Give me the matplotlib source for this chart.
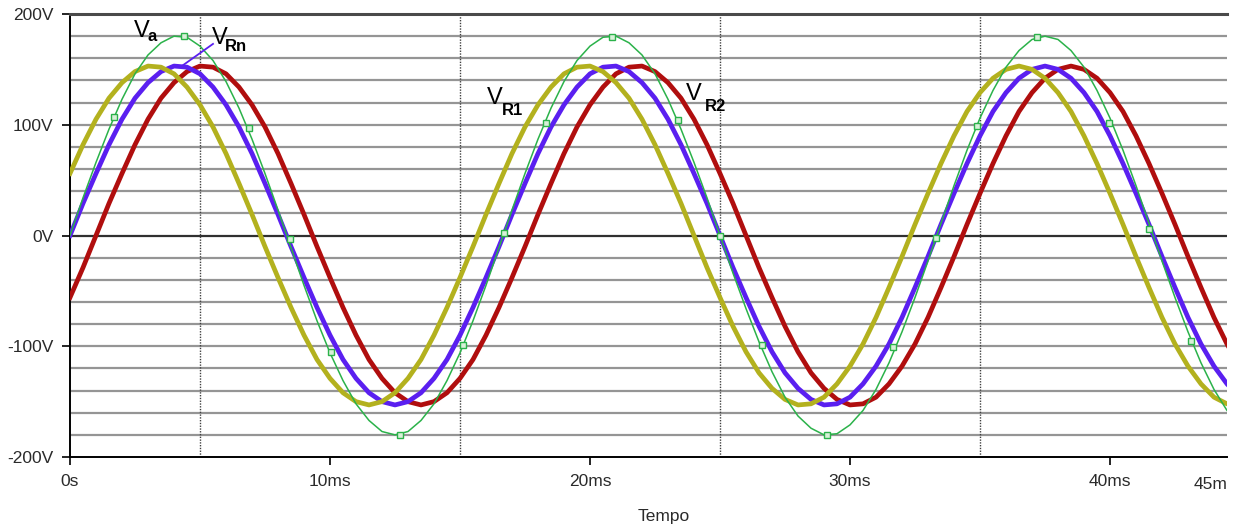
import matplotlib
matplotlib.use("Agg")
import matplotlib.pyplot as plt

plt.rcParams['font.family'] = ['Liberation Sans', 'DejaVu Sans']

# time axis (ms), sampled every 0.5 ms
t_ms = [
    0.0, 0.5, 1.0, 1.5, 2.0, 2.5, 3.0, 3.5, 4.0, 4.5,
    5.0, 5.5, 6.0, 6.5, 7.0, 7.5, 8.0, 8.5, 9.0, 9.5,
    10.0, 10.5, 11.0, 11.5, 12.0, 12.5, 13.0, 13.5, 14.0, 14.5,
    15.0, 15.5, 16.0, 16.5, 17.0, 17.5, 18.0, 18.5, 19.0, 19.5,
    20.0, 20.5, 21.0, 21.5, 22.0, 22.5, 23.0, 23.5, 24.0, 24.5,
    25.0, 25.5, 26.0, 26.5, 27.0, 27.5, 28.0, 28.5, 29.0, 29.5,
    30.0, 30.5, 31.0, 31.5, 32.0, 32.5, 33.0, 33.5, 34.0, 34.5,
    35.0, 35.5, 36.0, 36.5, 37.0, 37.5, 38.0, 38.5, 39.0, 39.5,
    40.0, 40.5, 41.0, 41.5, 42.0, 42.5, 43.0, 43.5, 44.0, 44.5,
    45.0,
]

# source voltage Va (V)
va = [
    0, 34, 66, 96, 123, 146, 163, 174, 180, 179,
    171, 158, 139, 115, 87, 56, 23, -11, -45, -77,
    -106, -131, -152, -167, -177, -180, -177, -167, -152, -131,
    -106, -77, -45, -11, 23, 56, 87, 115, 139, 158,
    171, 179, 180, 174, 163, 146, 123, 96, 66, 34,
    0, -34, -66, -96, -123, -146, -163, -174, -180, -179,
    -171, -158, -139, -115, -87, -56, -23, 11, 45, 77,
    106, 131, 152, 167, 177, 180, 177, 167, 152, 131,
    106, 77, 45, 11, -23, -56, -87, -115, -139, -158,
    -171,
]

# resistor voltage VRn (V)
v_rn = [
    0, 29, 56, 82, 105, 124, 138, 148, 153, 152,
    146, 134, 118, 98, 74, 47, 19, -10, -38, -65,
    -90, -112, -129, -142, -150, -153, -150, -142, -129, -112,
    -90, -65, -38, -10, 19, 47, 74, 98, 118, 134,
    146, 152, 153, 148, 138, 124, 105, 82, 56, 29,
    0, -29, -56, -82, -105, -124, -138, -148, -153, -152,
    -146, -134, -118, -98, -74, -47, -19, 10, 38, 65,
    90, 112, 129, 142, 150, 153, 150, 142, 129, 112,
    90, 65, 38, 10, -19, -47, -74, -98, -118, -134,
    -146,
]

# resistor voltage VR1 (V), leading
v_r1 = [
    56, 82, 105, 124, 138, 148, 153, 152, 146, 134,
    118, 98, 74, 47, 19, -10, -38, -65, -90, -112,
    -129, -142, -150, -153, -150, -142, -129, -112, -90, -65,
    -38, -10, 19, 47, 74, 98, 118, 134, 146, 152,
    153, 148, 138, 124, 105, 82, 56, 29, 0, -29,
    -56, -82, -105, -124, -138, -148, -153, -152, -146, -134,
    -118, -98, -74, -47, -19, 10, 38, 65, 90, 112,
    129, 142, 150, 153, 150, 142, 129, 112, 90, 65,
    38, 10, -19, -47, -74, -98, -118, -134, -146, -152,
    -153,
]

# resistor voltage VR2 (V), lagging
v_r2 = [
    -56, -29, 0, 29, 56, 82, 105, 124, 138, 148,
    153, 152, 146, 134, 118, 98, 74, 47, 19, -10,
    -38, -65, -90, -112, -129, -142, -150, -153, -150, -142,
    -129, -112, -90, -65, -38, -10, 19, 47, 74, 98,
    118, 134, 146, 152, 153, 148, 138, 124, 105, 82,
    56, 29, 0, -29, -56, -82, -105, -124, -138, -148,
    -153, -152, -146, -134, -118, -98, -74, -47, -19, 10,
    38, 65, 90, 112, 129, 142, 150, 153, 150, 142,
    129, 112, 90, 65, 38, 10, -19, -47, -74, -98,
    -118,
]

# square markers on the Va trace
va_mark_t = [1.7, 4.4, 6.9, 8.45, 10.05, 12.7, 15.1, 16.7, 18.3, 20.85,
             23.4, 25.0, 26.6, 29.1, 31.65, 33.3, 34.9, 37.2, 39.95, 41.5, 43.1]
va_mark_v = [107, 180, 97, -3, -105, -180, -99, 2, 102, 179,
             104, 0, -99, -180, -101, -2, 99, 179, 102, 6, -95]

x_ticks = [0, 10, 20, 30, 40]
x_tick_labels = ["0s", "10ms", "20ms", "30ms", "40ms"]
y_ticks = [-200, -100, 0, 100, 200]
y_tick_labels = ["-200V", "-100V", "0V", "100V", "200V"]
y_grid = [-180, -160, -140, -120, -100, -80, -60, -40, -20,
          20, 40, 60, 80, 100, 120, 140, 160, 180]
x_dotted = [5, 15, 25, 35]

c_green = "#2bb24a"
c_blue = "#5a1ff0"
c_olive = "#b3b11e"
c_red = "#b00e0e"

fig = plt.figure(figsize=(12.42, 5.29), dpi=100)
ax = fig.add_axes([70 / 1242, 1 - 457 / 529, 1157 / 1242, 443 / 529])
ax.set_xlim(0, 44.5)
ax.set_ylim(-200, 200)

# grid
for g in y_grid:
    ax.axhline(g, color="#959595", lw=1.6, zorder=1)
ax.axhline(0, color="#303030", lw=1.6, zorder=1)
for xd in x_dotted:
    ax.axvline(xd, color="#404040", lw=1.0, ls=(0, (1, 1)), zorder=1)

# traces
ax.plot(t_ms, v_r2, color=c_red, lw=3.4, zorder=3, solid_joinstyle="round")
ax.plot(t_ms, v_rn, color=c_blue, lw=3.4, zorder=4, solid_joinstyle="round")
ax.plot(t_ms, v_r1, color=c_olive, lw=3.4, zorder=5, solid_joinstyle="round")
ax.plot(t_ms, va, color=c_green, lw=1.1, zorder=6)
ax.plot(va_mark_t, va_mark_v, ls="none", marker="s", ms=4, mfc="#d8f0d8",
        mec=c_green, mew=1.0, zorder=7)

# labels
lab = dict(color="black", va="baseline", zorder=8)
ax.text(2.45, 179, "V", fontsize=17, **lab)
ax.text(3.0, 176, "a", fontsize=12, fontweight="bold", **lab)
ax.text(5.45, 173, "V", fontsize=17, **lab)
ax.text(5.95, 167, "Rn", fontsize=12, fontweight="bold", **lab)
ax.text(16.05, 119, "V", fontsize=17, **lab)
ax.text(16.62, 109, "R1", fontsize=12, fontweight="bold", **lab)
ax.text(23.7, 122, "V", fontsize=17, **lab)
ax.text(24.4, 112, "R2", fontsize=12, fontweight="bold", **lab)
ax.plot([5.5, 4.3], [173, 153], color=c_blue, lw=1.3, zorder=8)

# axes styling
ax.spines["right"].set_visible(False)
ax.spines["top"].set_color("#4a4a4a")
ax.spines["top"].set_linewidth(2.2)
ax.spines["left"].set_linewidth(1.4)
ax.spines["bottom"].set_linewidth(1.4)

ax.set_xticks(x_ticks)
ax.set_xticklabels(x_tick_labels)
ax.set_yticks(y_ticks)
ax.set_yticklabels(y_tick_labels)
ax.tick_params(axis="both", direction="out", length=6, width=1.2,
               labelsize=12.5, labelcolor="#2a2a2a", pad=6)
ax.text(1.0, -0.0455, "45m", transform=ax.transAxes, ha="right", va="top",
        fontsize=12.5, color="#2a2a2a")

fig.text(664 / 1242, 1 - 517 / 529, "Tempo", ha="center", va="center",
         fontsize=12.5, color="#2a2a2a")

fig.savefig("out.png", dpi=100)
